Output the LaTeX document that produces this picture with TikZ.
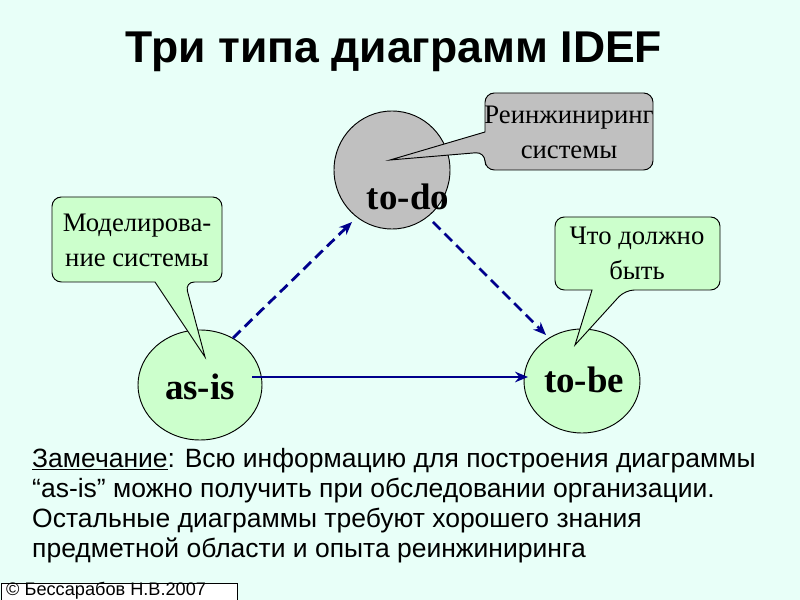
\documentclass[tikz,border=0pt]{standalone}
\usepackage{fontspec}
\setmainfont{Liberation Serif}
\newfontfamily\sansf{Liberation Sans}
\usetikzlibrary{arrows.meta}
\definecolor{bg}{RGB}{232,255,248}
\definecolor{grn}{RGB}{204,255,204}
\definecolor{gry}{RGB}{192,192,192}
\definecolor{navy}{RGB}{0,0,140}
\begin{document}
\begin{tikzpicture}[x=0.03cm,y=-0.03cm,
 lbl/.style={font=\bfseries\fontsize{31.5}{34}\selectfont},
 call/.style={draw=black,line width=0.8pt,rounded corners=8},
 ctext/.style={font=\fontsize{22.8}{30}\selectfont,align=center},
 con/.style={navy,line width=2.4pt,-{Stealth[length=11pt,width=9pt]}}]
\fill[bg] (0,0) rectangle (800,600);
\useasboundingbox (0,0) rectangle (800,600);
\node[font=\sansf\bfseries\fontsize{38}{42}\selectfont] (title) at (394,52) {Три типа диаграмм IDEF};
% circles
\fill[gry,draw=black,line width=0.8pt] (392,170) ellipse (58 and 59);
\fill[grn,draw=black,line width=0.8pt] (200,385) ellipse (62 and 55);
\fill[grn,draw=black,line width=0.8pt] (582,381) ellipse (58 and 52);
\node[lbl] (todo) at (408,197) {to-do};
\node[lbl] (asis) at (200,387) {as-is};
\node[lbl] (tobe) at (584,380) {to-be};
% connectors
\coordinate (a1) at (252,377); \coordinate (b1) at (528,377);
\draw[con] (a1) -- (b1);
\coordinate (a2) at (233,338); \coordinate (b2) at (352,222);
\draw[con,dash pattern=on 9pt off 5pt] (a2) -- (b2);
\coordinate (a3) at (433,222); \coordinate (b3) at (546,335);
\draw[con,dash pattern=on 9pt off 5pt] (a3) -- (b3);
% callouts
\draw[call,fill=grn] (52,197) -- (222,197) -- (222,282) -- (185,282) [sharp corners] -- (205,357) -- (155,282) [rounded corners=8] -- (52,282) -- cycle;
\node[ctext] (c1) at (137,240) {Моделирова-\\ние системы};
\draw[call,fill=gry] (485,93) -- (653,93) -- (653,170) -- (485,170) -- (485,152) [sharp corners] -- (390,160) -- (485,132) [rounded corners=8] -- cycle;
\node[ctext] (c2) at (569,132) {Реинжиниринг\\системы};
\draw[call,fill=grn] (555,217) -- (720,217) -- (720,290) -- (625,290) [sharp corners] -- (575,345) -- (592,290) [rounded corners=8] -- (555,290) -- cycle;
\node[ctext] (c3) at (637,253) {Что должно\\быть};
% note
\node[font=\sansf\fontsize{22.6}{25.5}\selectfont,align=left,anchor=north west,inner sep=0] (note) at (32,448) {\underline{Замечание}: Всю информацию для построения диаграммы\\“as-is” можно получить при обследовании организации.\\Остальные диаграммы требуют хорошего знания\\предметной области и опыта реинжиниринга};
\draw[line width=0.8pt,fill=white] (1,583) rectangle (237,600);
\node[font=\sansf\fontsize{15.5}{17}\selectfont,anchor=west,inner sep=0] (copy) at (6,591) {© Бессарабов Н.В.2007};
\end{tikzpicture}
\end{document}
